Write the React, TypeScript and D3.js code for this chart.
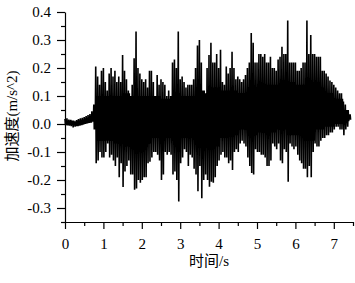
import React, { useEffect, useRef } from "react";
import * as d3 from "d3";

const width = 355;
const height = 283;
const margin = { top: 12, right: 2, bottom: 61, left: 65 };

// peak values read per 0.05 s window (m/s^2)
const step = 0.05;
const peakPos = [
  0.018, 0.02, 0.016, 0.015, 0.012, 0.01, 0.014, 0.018, 0.02, 0.022,
  0.025, 0.028, 0.032, 0.036, 0.045, 0.07, 0.205, 0.17, 0.14, 0.19,
  0.2, 0.15, 0.12, 0.18, 0.2, 0.17, 0.19, 0.15, 0.17, 0.15,
  0.246, 0.19, 0.16, 0.12, 0.1, 0.14, 0.235, 0.33, 0.2, 0.18,
  0.16, 0.15, 0.16, 0.13, 0.19, 0.19, 0.15, 0.1, 0.175, 0.14,
  0.16, 0.15, 0.14, 0.1, 0.12, 0.1, 0.22, 0.23, 0.2, 0.33,
  0.16, 0.17, 0.15, 0.13, 0.14, 0.14, 0.14, 0.16, 0.2, 0.28,
  0.3, 0.22, 0.12, 0.11, 0.2, 0.246, 0.29, 0.22, 0.22, 0.25,
  0.2, 0.265, 0.15, 0.14, 0.205, 0.18, 0.2, 0.258, 0.2, 0.16,
  0.17, 0.16, 0.15, 0.16, 0.175, 0.2, 0.22, 0.325, 0.29, 0.22,
  0.22, 0.25, 0.25, 0.24, 0.25, 0.22, 0.22, 0.24, 0.2, 0.2,
  0.19, 0.23, 0.24, 0.276, 0.25, 0.25, 0.37, 0.22, 0.22, 0.22,
  0.22, 0.19, 0.19, 0.2, 0.22, 0.22, 0.37, 0.25, 0.318, 0.25,
  0.25, 0.24, 0.24, 0.24, 0.19, 0.19, 0.18, 0.17, 0.155, 0.15,
  0.14, 0.13, 0.12, 0.11, 0.11, 0.08, 0.07, 0.05, 0.035,
];
const peakNeg = [
  -0.004, -0.005, -0.006, -0.008, -0.012, -0.01, -0.008, -0.006, -0.004, -0.002,
  0.0, 0.002, 0.004, 0.005, 0.008, -0.02, -0.14, -0.13, -0.1, -0.12,
  -0.12, -0.1, -0.07, -0.12, -0.11, -0.13, -0.15, -0.12, -0.19, -0.14,
  -0.225, -0.17, -0.15, -0.13, -0.18, -0.18, -0.235, -0.23, -0.2, -0.21,
  -0.2, -0.19, -0.19, -0.14, -0.135, -0.12, -0.1, -0.1, -0.11, -0.13,
  -0.2, -0.18, -0.1, -0.11, -0.1, -0.11, -0.18, -0.17, -0.2, -0.277,
  -0.14, -0.12, -0.09, -0.1, -0.15, -0.11, -0.12, -0.16, -0.18, -0.24,
  -0.15, -0.265, -0.2, -0.18, -0.2, -0.224, -0.206, -0.21, -0.19, -0.15,
  -0.13, -0.11, -0.1, -0.12, -0.12, -0.14, -0.13, -0.164, -0.1, -0.09,
  -0.1, -0.07, -0.06, -0.07, -0.08, -0.12, -0.15, -0.175, -0.18, -0.09,
  -0.1, -0.1, -0.11, -0.11, -0.12, -0.15, -0.15, -0.13, -0.07, -0.08,
  -0.09, -0.07, -0.13, -0.14, -0.09, -0.1, -0.206, -0.07, -0.08, -0.09,
  -0.08, -0.11, -0.13, -0.14, -0.16, -0.16, -0.19, -0.15, -0.19, -0.1,
  -0.07, -0.08, -0.08, -0.06, -0.05, -0.05, -0.04, -0.04, -0.03, -0.03,
  -0.02, -0.01, -0.01, -0.02, -0.02, -0.04, -0.02, -0.01, 0.015,
];

// dense (solid black) band read per 0.25 s
const coreStep = 0.25;
const coreTop = [
  0.012, 0.012, 0.02, 0.1, 0.1, 0.1, 0.11, 0.1, 0.1, 0.1,
  0.09, 0.11, 0.1, 0.1, 0.12, 0.13, 0.12, 0.12, 0.11, 0.13,
  0.14, 0.14, 0.14, 0.15, 0.14, 0.15, 0.13, 0.11, 0.09, 0.05,
];
const coreBottom = [
  -0.004, -0.008, 0.0, -0.06, -0.06, -0.07, -0.08, -0.08, -0.07, -0.05,
  -0.05, -0.06, -0.05, -0.05, -0.07, -0.08, -0.05, -0.04, -0.02, -0.04,
  -0.03, -0.03, -0.02, -0.04, -0.04, -0.06, -0.02, -0.01, 0.0, 0.01,
];

const xTicks = [0, 1, 2, 3, 4, 5, 6, 7];
const xMinor = [0.5, 1.5, 2.5, 3.5, 4.5, 5.5, 6.5, 7.5];
const yTicks = [-0.3, -0.2, -0.1, 0.0, 0.1, 0.2, 0.3, 0.4];
const yMinor = [-0.35, -0.25, -0.15, -0.05, 0.05, 0.15, 0.25, 0.35];

const font = "Liberation Serif, Noto Sans CJK SC, serif";

export default function App() {
  const xAxisRef = useRef<SVGGElement>(null);
  const yAxisRef = useRef<SVGGElement>(null);
  const xMinorRef = useRef<SVGGElement>(null);
  const yMinorRef = useRef<SVGGElement>(null);

  const x = d3.scaleLinear().domain([0, 7.5]).range([margin.left, width - margin.right]);
  const y = d3.scaleLinear().domain([-0.35, 0.4]).range([height - margin.bottom, margin.top]);

  // per window: max -> min in one swing, then a short swing inside the dense band
  const pts: [number, number][] = [];
  peakPos.forEach((p, i) => {
    const t = i * step;
    const n = peakNeg[i];
    const c = Math.min(Math.floor((t + 1e-9) / coreStep), coreTop.length - 1);
    const hi = Math.max(Math.min(coreTop[c], p), n);
    const lo = Math.min(Math.max(coreBottom[c], n), p);
    pts.push([t, p]);
    pts.push([t + step / 4, n]);
    pts.push([t + step / 2, hi]);
    pts.push([t + (3 * step) / 4, lo]);
  });
  const line = d3
    .line<[number, number]>()
    .x(d => x(d[0]))
    .y(d => y(d[1]));

  useEffect(() => {
    const xAxis = d3.axisBottom(x).tickValues(xTicks).tickSize(7).tickSizeOuter(0).tickPadding(9);
    const yAxis = d3
      .axisLeft(y)
      .tickValues(yTicks)
      .tickSize(8)
      .tickSizeOuter(0)
      .tickPadding(6)
      .tickFormat(d => (+d).toFixed(1));
    const gx = d3.select(xAxisRef.current!).call(xAxis);
    const gy = d3.select(yAxisRef.current!).call(yAxis);
    [gx, gy].forEach(g => {
      g.attr("font-family", font).attr("font-size", 15);
      g.selectAll("line, path").attr("stroke", "#000").attr("stroke-width", 1.2);
      g.selectAll("text").attr("fill", "#000").attr("font-family", font);
    });
    const gxm = d3
      .select(xMinorRef.current!)
      .call(d3.axisBottom(x).tickValues(xMinor).tickSize(4).tickFormat(() => ""));
    const gym = d3
      .select(yMinorRef.current!)
      .call(d3.axisLeft(y).tickValues(yMinor).tickSize(4).tickFormat(() => ""));
    [gxm, gym].forEach(g => {
      g.select(".domain").remove();
      g.selectAll("line").attr("stroke", "#000").attr("stroke-width", 1.2);
    });
  }, []);

  return (
    <svg
      width={width}
      height={height}
      style={{ position: "absolute", left: 0, top: 0, background: "#fff" }}
    >
      <path d={line(pts) ?? ""} fill="none" stroke="#000" strokeWidth={1.6} strokeLinejoin="miter" strokeMiterlimit={2} />
      <g ref={xMinorRef} transform={`translate(0, ${height - margin.bottom})`} />
      <g ref={yMinorRef} transform={`translate(${margin.left}, 0)`} />
      <g ref={xAxisRef} transform={`translate(0, ${height - margin.bottom})`} />
      <g ref={yAxisRef} transform={`translate(${margin.left}, 0)`} />
      <text
        x={(margin.left + width - margin.right) / 2}
        y={266}
        textAnchor="middle"
        fontFamily={font}
        fontSize={15}
      >
        时间/s
      </text>
      <text
        transform={`translate(17, 116) rotate(-90)`}
        textAnchor="middle"
        fontFamily={font}
        fontSize={15}
      >
        加速度(m/s^2)
      </text>
    </svg>
  );
}
